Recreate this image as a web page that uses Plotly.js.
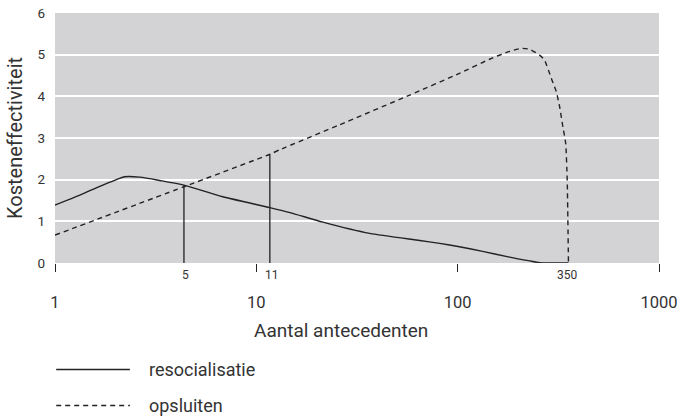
<!DOCTYPE html>
<html>
<head>
<meta charset="utf-8">
<script src="https://cdn.plot.ly/plotly-3.0.1.min.js"></script>
<style>html,body{margin:0;padding:0;background:#fff;}#chart{width:683px;height:417px;}</style>
</head>
<body>
<div id="chart"></div>
<script>
// Data
const resocX = [1, 1.33, 1.67, 1.99, 2.22, 2.64, 3.32, 4.37, 6.82, 11.67, 14.7, 21.4, 36.6, 64.8, 81.4, 102, 133, 181, 228, 255, 286, 355];
const resocY = [1.39, 1.63, 1.84, 1.99, 2.07, 2.06, 1.98, 1.87, 1.59, 1.33, 1.21, 0.98, 0.71, 0.54, 0.47, 0.39, 0.28, 0.14, 0.05, 0.01, 0, 0];

const opsX = [1, 4.37, 11.67, 13.1, 26, 57.8, 102, 144, 181, 207, 228, 255, 270, 292, 309, 321, 333, 344, 350, 355];
const opsY = [0.67, 1.83, 2.61, 2.72, 3.32, 4.03, 4.55, 4.89, 5.08, 5.15, 5.13, 4.99, 4.87, 4.43, 4.11, 3.75, 3.27, 2.87, 1.99, 0];

const markX = [4.37, 11.67];
const markTop = [1.87, 2.61];
const markLabelX = [4.45, 12.0, 350];
const markLabels = ['5', '11', '350'];

const xTickVals = [1, 10, 100, 1000];
const xTickText = ['1', '10', '100', '1000'];
const yTickVals = [0, 1, 2, 3, 4, 5, 6];

const seriesNames = ['resocialisatie', 'opsluiten'];
const xTitle = 'Aantal antecedenten';
const yTitle = 'Kosteneffectiviteit';

const FONT = 'Roboto, "Liberation Sans", Arial, sans-serif';
const INK = '#222222';
const TXT = '#333333';

const traces = [
  {x: resocX, y: resocY, mode: 'lines', name: seriesNames[0],
   line: {color: INK, width: 1.4, shape: 'spline', smoothing: 0.6}, hoverinfo: 'skip'},
  {x: opsX, y: opsY, mode: 'lines', name: seriesNames[1],
   line: {color: INK, width: 1.4, dash: '5px,4px', shape: 'spline', smoothing: 0.5}, hoverinfo: 'skip'}
];
markX.forEach((mx, i) => {
  traces.push({x: [mx, mx], y: [0, markTop[i]], mode: 'lines', showlegend: false,
    line: {color: INK, width: 1.3}, hoverinfo: 'skip'});
});

// Small marker labels under the axis
const annotations = markLabels.map((t, i) => ({
  text: t, xref: 'x', yref: 'paper', x: Math.log10(markLabelX[i]), y: 0, yshift: -12,
  xanchor: 'center', yanchor: 'middle', showarrow: false,
  font: {family: FONT, size: 12, color: TXT}
}));

// X title (placed as in the reference, slightly left of centre)
annotations.push({text: xTitle, xref: 'paper', yref: 'paper', x: 0.474, y: -0.27,
  xanchor: 'center', yanchor: 'middle', showarrow: false,
  font: {family: FONT, size: 19, color: TXT}});

// Manual legend (long line samples)
const legY = [-0.426, -0.570];
const shapes = seriesNames.map((n, i) => ({
  type: 'line', xref: 'paper', yref: 'paper', x0: 0.002, x1: 0.124, y0: legY[i], y1: legY[i],
  line: {color: INK, width: 1.3, dash: i === 0 ? 'solid' : '5px,4px'}
}));
seriesNames.forEach((n, i) => annotations.push({
  text: n, xref: 'paper', yref: 'paper', x: 0.153, y: legY[i], xanchor: 'left', yanchor: 'middle',
  showarrow: false, font: {family: FONT, size: 18, color: TXT}
}));

const layout = {
  width: 683, height: 417,
  margin: {l: 55, r: 24, t: 13, b: 154, pad: 0},
  paper_bgcolor: '#ffffff',
  plot_bgcolor: '#d3d3d5',
  showlegend: false,
  font: {family: FONT, color: TXT},
  xaxis: {
    type: 'log', range: [0, 3], tickvals: xTickVals, ticktext: xTickText,
    ticks: 'outside', ticklen: 8, tickwidth: 1, tickcolor: INK,
    showgrid: false, zeroline: false, showline: false,
    tickfont: {family: FONT, size: 16.5, color: TXT}, ticklabelstandoff: 16
  },
  yaxis: {
    range: [0, 6], tickvals: yTickVals, ticks: '', showline: false, zeroline: false,
    gridcolor: '#ffffff', gridwidth: 2,
    tickfont: {family: FONT, size: 13.5, color: TXT}, ticklabelstandoff: 9,
    title: {text: yTitle, font: {family: FONT, size: 20, color: TXT}, standoff: 9}
  },
  shapes: shapes,
  annotations: annotations
};

Plotly.newPlot('chart', traces, layout, {staticPlot: true, displayModeBar: false});
</script>
</body>
</html>
